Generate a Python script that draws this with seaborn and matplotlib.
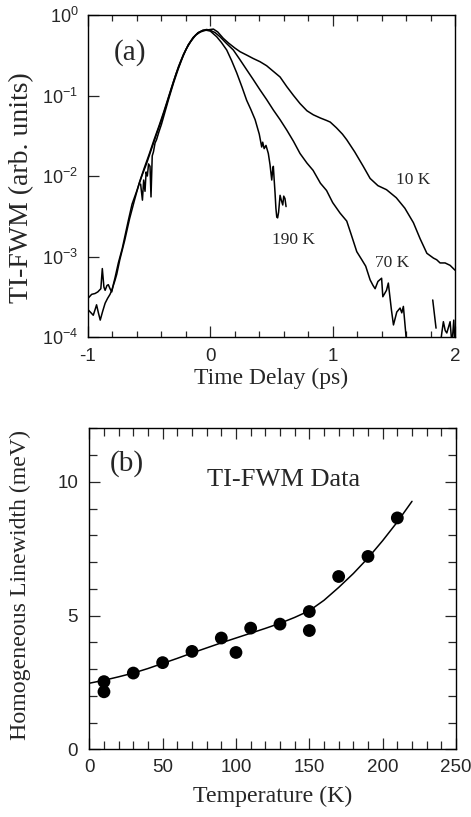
import numpy as np
import pandas as pd
import matplotlib
matplotlib.use("Agg")
import matplotlib.pyplot as plt
import seaborn as sns
from matplotlib.ticker import MultipleLocator, FixedLocator, NullLocator, FixedFormatter

# ---------------- panel (a): TI-FWM traces (time delay in ps, log10 of signal) ----------------
t_10K = [-1.00, -0.97, -0.943, -0.92, -0.895, -0.883, -0.87, -0.86, -0.845, -0.834, -0.82, -0.806,
         -0.79, -0.78, -0.752, -0.72, -0.70, -0.67, -0.64, -0.60, -0.56, -0.52, -0.48, -0.44, -0.40,
         -0.36, -0.32, -0.28, -0.24, -0.20, -0.16, -0.12, -0.08, -0.04, 0.0, 0.025, 0.06, 0.106, 0.15,
         0.20, 0.243, 0.30, 0.35, 0.406, 0.46, 0.515, 0.57, 0.625, 0.68, 0.733, 0.79, 0.842, 0.90,
         0.95, 0.98, 1.03, 1.08, 1.115, 1.18, 1.25, 1.306, 1.37, 1.44, 1.52, 1.59, 1.66, 1.715, 1.77,
         1.824, 1.85, 1.878, 1.919, 1.96, 2.0]
log_10K = [-3.52, -3.47, -3.46, -3.44, -3.40, -3.15, -3.38, -3.42, -3.36, -3.35, -3.40, -3.44,
           -3.33, -3.27, -3.08, -2.90, -2.76, -2.55, -2.35, -2.18, -2.00, -1.84, -1.66, -1.48, -1.31,
           -1.12, -0.92, -0.73, -0.57, -0.43, -0.33, -0.25, -0.21, -0.19, -0.18, -0.175, -0.21, -0.29,
           -0.35, -0.41, -0.456, -0.50, -0.54, -0.58, -0.63, -0.70, -0.77, -0.89, -1.00, -1.10, -1.19,
           -1.24, -1.28, -1.31, -1.33, -1.40, -1.48, -1.55, -1.70, -1.88, -2.03, -2.12, -2.17, -2.27,
           -2.40, -2.58, -2.78, -2.96, -3.02, -3.04, -3.08, -3.08, -3.11, -3.17]

t_70K = [-1.00, -0.975, -0.957, -0.94, -0.93, -0.915, -0.90, -0.88, -0.86, -0.84, -0.82, -0.806,
         -0.78, -0.765, -0.74, -0.70, -0.66, -0.62, -0.58, -0.54, -0.50, -0.46, -0.42, -0.38, -0.34,
         -0.30, -0.26, -0.22, -0.18, -0.14, -0.10, -0.06, -0.03, 0.0, 0.04, 0.079, 0.13, 0.188, 0.24,
         0.297, 0.35, 0.406, 0.46, 0.515, 0.57, 0.625, 0.68, 0.733, 0.79, 0.84, 0.90, 0.95, 1.0, 1.06,
         1.115, 1.15, 1.197, 1.238, 1.27, 1.306, 1.33, 1.347, 1.37, 1.40, 1.41, 1.44, 1.455, 1.48,
         1.497, 1.524, 1.551, 1.565, 1.578, 1.606,
         np.nan, 1.818, 1.845,
         np.nan, 1.88, 1.892, 1.905, 1.92, 1.933, 1.96, 1.975, 1.99, 2.0]
log_70K = [-3.66, -3.70, -3.73, -3.65, -3.60, -3.70, -3.79, -3.68, -3.58, -3.52, -3.47, -3.42,
           -3.30, -3.22, -3.04, -2.80, -2.53, -2.30, -2.08, -1.90, -1.73, -1.55, -1.38, -1.20, -1.01,
           -0.82, -0.64, -0.49, -0.37, -0.28, -0.22, -0.19, -0.18, -0.19, -0.22, -0.27, -0.35, -0.435,
           -0.55, -0.68, -0.80, -0.93, -1.05, -1.18, -1.30, -1.43, -1.57, -1.72, -1.84, -1.93, -2.09,
           -2.18, -2.33, -2.46, -2.56, -2.72, -2.94, -3.04, -3.12, -3.29, -3.36, -3.40, -3.31, -3.27,
           -3.50, -3.42, -3.33, -3.66, -3.85, -3.69, -3.64, -3.70, -3.62, -4.10,
           np.nan, -3.54, -3.89,
           np.nan, -4.10, -3.95, -3.81, -3.92, -3.95, -3.81, -4.10, -3.79, -4.10]

t_190K = [-0.57, -0.555, -0.545, -0.534, -0.525, -0.515, -0.505, -0.493, -0.485, -0.475, -0.465,
          -0.452, -0.44, -0.42, -0.40, -0.37, -0.34, -0.30, -0.26, -0.22, -0.18, -0.14, -0.10, -0.06,
          -0.03, 0.0, 0.052, 0.09, 0.134, 0.175, 0.216, 0.26, 0.297, 0.33, 0.366, 0.40, 0.42, 0.428,
          0.44, 0.455, 0.474, 0.488, 0.502, 0.508, 0.515, 0.522, 0.529, 0.536, 0.543, 0.55, 0.558,
          0.57, 0.58, 0.592, 0.60, 0.61, 0.619]
log_190K = [-2.10, -2.30, -2.05, -2.19, -1.95, -2.00, -1.85, -1.88, -2.26, -1.75, -1.70, -1.59,
            -1.55, -1.45, -1.36, -1.20, -1.04, -0.84, -0.66, -0.50, -0.37, -0.28, -0.22, -0.19,
            -0.19, -0.20, -0.27, -0.34, -0.435, -0.57, -0.72, -0.90, -1.06, -1.17, -1.30, -1.48,
            -1.64, -1.58, -1.66, -1.62, -1.72, -1.86, -2.05, -1.95, -1.88, -2.05, -2.21, -2.40,
            -2.51, -2.52, -2.45, -2.24, -2.30, -2.36, -2.25, -2.28, -2.38]

a_xticks = [-1, 0, 1, 2]
a_yticks = [1e0, 1e-1, 1e-2, 1e-3, 1e-4]
a_ytick_labels = ["$\\mathdefault{10^{0}}$", "$\\mathdefault{10^{-1}}$", "$\\mathdefault{10^{-2}}$",
                  "$\\mathdefault{10^{-3}}$", "$\\mathdefault{10^{-4}}$"]

# ---------------- panel (b): homogeneous linewidth vs temperature ----------------
T_data = [10, 10, 30, 50, 70, 90, 100, 110, 130, 150, 150, 170, 190, 210]
G_data = [2.53, 2.15, 2.85, 3.24, 3.66, 4.16, 3.62, 4.53, 4.68, 5.15, 4.44, 6.46, 7.21, 8.65]

T_fit = [0, 10, 20, 30, 40, 50, 60, 70, 80, 90, 100, 110, 120, 130, 140, 150, 160, 170, 180,
         190, 200, 210, 220]
G_fit = [2.47, 2.58, 2.71, 2.85, 3.02, 3.21, 3.40, 3.60, 3.79, 3.98, 4.16, 4.34, 4.52, 4.71,
         4.93, 5.18, 5.57, 6.05, 6.57, 7.15, 7.80, 8.50, 9.27]

# ---------------- styling ----------------
sns.set_style("ticks")
plt.rcParams["font.family"] = ["Liberation Serif", "DejaVu Serif"]
plt.rcParams["axes.unicode_minus"] = False
plt.rcParams["mathtext.fontset"] = "custom"
plt.rcParams["mathtext.rm"] = "Liberation Sans"
TICKFONT = ["Liberation Sans", "DejaVu Sans"]

fig = plt.figure(figsize=(4.71, 8.17), dpi=100)
ax1 = fig.add_axes([88 / 471, 1 - 337 / 817, 367 / 471, 322 / 817])
ax2 = fig.add_axes([89.3 / 471, 1 - 749.3 / 817, 366.7 / 471, 321 / 817])

# ---- panel (a)
rows = []
for name, tt, ll in [("10K", t_10K, log_10K), ("70K", t_70K, log_70K), ("190K", t_190K, log_190K)]:
    tt = np.asarray(tt, float)
    ll = np.asarray(ll, float)
    seg = np.cumsum(np.isnan(tt))
    ok = ~np.isnan(tt)
    for t, l, s in zip(tt[ok], ll[ok], seg[ok]):
        rows.append({"trace": f"{name}_{s}", "t": t, "signal": 10.0 ** l})
df_a = pd.DataFrame(rows)

ax1.set_yscale("log")
sns.lineplot(data=df_a, x="t", y="signal", units="trace", estimator=None, sort=False,
             color="black", linewidth=1.1, ax=ax1, legend=False)
ax1.set_xlim(-1, 2)
ax1.set_ylim(1e-4, 1e0)
ax1.xaxis.set_major_locator(FixedLocator(a_xticks))
ax1.xaxis.set_minor_locator(MultipleLocator(0.2))
ax1.yaxis.set_major_locator(FixedLocator(a_yticks))
ax1.yaxis.set_major_formatter(FixedFormatter(a_ytick_labels))
ax1.yaxis.set_minor_locator(NullLocator())
ax1.tick_params(axis="both", which="both", direction="in", top=True, right=False, width=0.9)
ax1.tick_params(axis="both", which="major", length=8)
ax1.tick_params(axis="both", which="minor", length=4.5)
ax1.tick_params(axis="x", which="major", pad=8, labelsize=13.5)
ax1.tick_params(axis="y", which="major", pad=7, labelsize=13)
ax1.set_xlabel("Time Delay (ps)", fontsize=17)
ax1.set_ylabel("TI-FWM (arb. units)", fontsize=20)
ax1.xaxis.set_label_coords(0.5, -0.097)
ax1.yaxis.set_label_coords(-0.148, 0.463)
ax1.text(0.114, 0.882, "(a)", transform=ax1.transAxes, fontsize=21, ha="center", va="center")
ax1.text(0.886, 0.488, "10 K", transform=ax1.transAxes, fontsize=12.5, ha="center", va="center")
ax1.text(0.559, 0.301, "190 K", transform=ax1.transAxes, fontsize=12.5, ha="center", va="center")
ax1.text(0.828, 0.230, "70 K", transform=ax1.transAxes, fontsize=12.5, ha="center", va="center")

# ---- panel (b)
df_pts = pd.DataFrame({"T": T_data, "G": G_data})
df_fit = pd.DataFrame({"T": T_fit, "G": G_fit})
sns.lineplot(data=df_fit, x="T", y="G", color="black", linewidth=1.1, ax=ax2)
sns.scatterplot(data=df_pts, x="T", y="G", s=85, color="black", edgecolor="none", ax=ax2, zorder=3)
ax2.set_xlim(0, 250)
ax2.set_ylim(0, 12)
ax2.xaxis.set_major_locator(MultipleLocator(50))
ax2.xaxis.set_minor_locator(MultipleLocator(10))
ax2.yaxis.set_major_locator(FixedLocator([0, 5, 10]))
ax2.yaxis.set_minor_locator(MultipleLocator(1))
ax2.tick_params(axis="both", which="both", direction="in", top=True, right=True, width=0.9)
ax2.tick_params(axis="both", which="major", length=8)
ax2.tick_params(axis="both", which="minor", length=6)
ax2.tick_params(axis="x", which="major", pad=7, labelsize=13.5)
ax2.tick_params(axis="y", which="major", pad=8, labelsize=13.5)
ax2.set_xlabel("Temperature (K)", fontsize=17.2)
ax2.set_ylabel("Homogeneous Linewidth (meV)", fontsize=17.2)
ax2.xaxis.set_label_coords(0.5, -0.113)
ax2.yaxis.set_label_coords(-0.16, 0.512)
ax2.text(0.102, 0.891, "(b)", transform=ax2.transAxes, fontsize=21, ha="center", va="center")
ax2.text(0.529, 0.839, "TI-FWM Data", transform=ax2.transAxes, fontsize=19, ha="center", va="center")

for ax in (ax1, ax2):
    for lab in ax.get_xticklabels() + ax.get_yticklabels():
        lab.set_fontfamily(TICKFONT)
    for sp in ax.spines.values():
        sp.set_linewidth(1.0)
        sp.set_color("black")

fig.savefig("out.png", dpi=100)
